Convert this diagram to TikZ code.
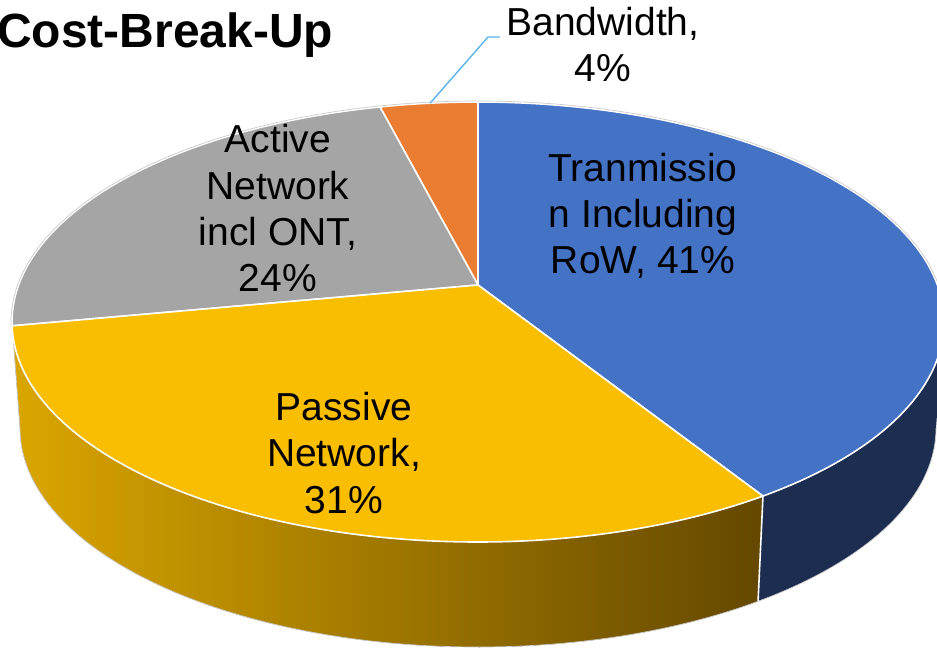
\documentclass[tikz,border=0pt]{standalone}
\usepackage{fontspec}
\setmainfont{Liberation Sans}
\definecolor{cblue}{RGB}{68,114,196}
\definecolor{corange}{RGB}{235,125,50}
\definecolor{cgray}{RGB}{165,165,165}
\definecolor{cyellow}{RGB}{250,190,0}
\definecolor{sideblue}{RGB}{28,45,80}
\definecolor{sideL}{RGB}{218,166,0}
\definecolor{sideR}{RGB}{100,72,0}
\definecolor{leadercol}{RGB}{93,180,235}
\begin{document}
\begin{tikzpicture}[x=1pt,y=1pt,
  lbl/.style={font=\fontsize{39}{46.5}\selectfont, align=center, inner sep=0pt, text=black},
  slice/.style={draw=white, line width=1.6pt, line join=round},
  rim/.style={draw=gray!40, line width=0.7pt},
  leader/.style={draw=leadercol, line width=1.4pt}]
\useasboundingbox (0,0) rectangle (937,649);
\fill[white] (0,0) rectangle (937,649);
\clip (0,0) rectangle (937,649);
\coordinate (ct) at (478,327);
\coordinate (cb) at (478,221);
\coordinate (apex) at (478,364);
% sides
\fill[left color=sideL, right color=sideR]
  ([shift={(ct)}]180:466 and 220) arc[start angle=180,end angle=307.7,x radius=466,y radius=220]
  -- ([shift={(cb)}]307.7:458 and 219) arc[start angle=307.7,end angle=180,x radius=458,y radius=219] -- cycle;
\fill[sideblue]
  ([shift={(ct)}]-52.3:466 and 220) arc[start angle=-52.3,end angle=0,x radius=466,y radius=220]
  -- ([shift={(cb)}]0:458 and 219) arc[start angle=0,end angle=-52.3,x radius=458,y radius=219] -- cycle;
\draw[white, line width=1.6pt] ([shift={(ct)}]-52.3:466 and 220) -- ([shift={(cb)}]-52.3:458 and 219);
\draw[rim] ([shift={(ct)}]180:466 and 220) -- ([shift={(cb)}]180:458 and 219)
  arc[start angle=180,end angle=360,x radius=458,y radius=219];
% top faces
\filldraw[slice, fill=cblue] (apex) -- ([shift={(ct)}]-52.3:466 and 220)
  arc[start angle=-52.3,end angle=90,x radius=466,y radius=220] -- cycle;
\filldraw[slice, fill=corange] (apex) -- ([shift={(ct)}]90:466 and 220)
  arc[start angle=90,end angle=102.14,x radius=466,y radius=220] -- cycle;
\filldraw[slice, fill=cgray] (apex) -- ([shift={(ct)}]102.14:466 and 220)
  arc[start angle=102.14,end angle=181,x radius=466,y radius=220] -- cycle;
\filldraw[slice, fill=cyellow] (apex) -- ([shift={(ct)}]181:466 and 220)
  arc[start angle=181,end angle=307.7,x radius=466,y radius=220] -- cycle;
\draw[rim] ([shift={(ct)}]0:467 and 221) arc[start angle=0,end angle=181,x radius=467,y radius=221];
% labels (base = baseline of last line)
\node[lbl, anchor=base] (tr) at (643,375) {Tranmissio\\n Including\\RoW, 41\%};
\node[lbl, anchor=base] (ac) at (278,357) {Active\\Network\\incl ONT,\\24\%};
\node[lbl, anchor=base] (pa) at (344,136) {Passive\\Network,\\31\%};
\node[lbl, anchor=base] (bw) at (603,567) {Bandwidth,\\4\%};
% leader
\coordinate (bwpt) at ([shift={(ct)}]95.9:466 and 220);
\coordinate (bwknee) at (488,612);
\coordinate (bwend) at (500,612);
\draw[leader] (bwpt) -- (bwknee) -- (bwend);
% title
\node[anchor=base west, inner sep=0pt, font=\fontsize{48}{56}\selectfont\bfseries] (title) at (-3,601) {Cost-Break-Up};
\end{tikzpicture}
\end{document}
